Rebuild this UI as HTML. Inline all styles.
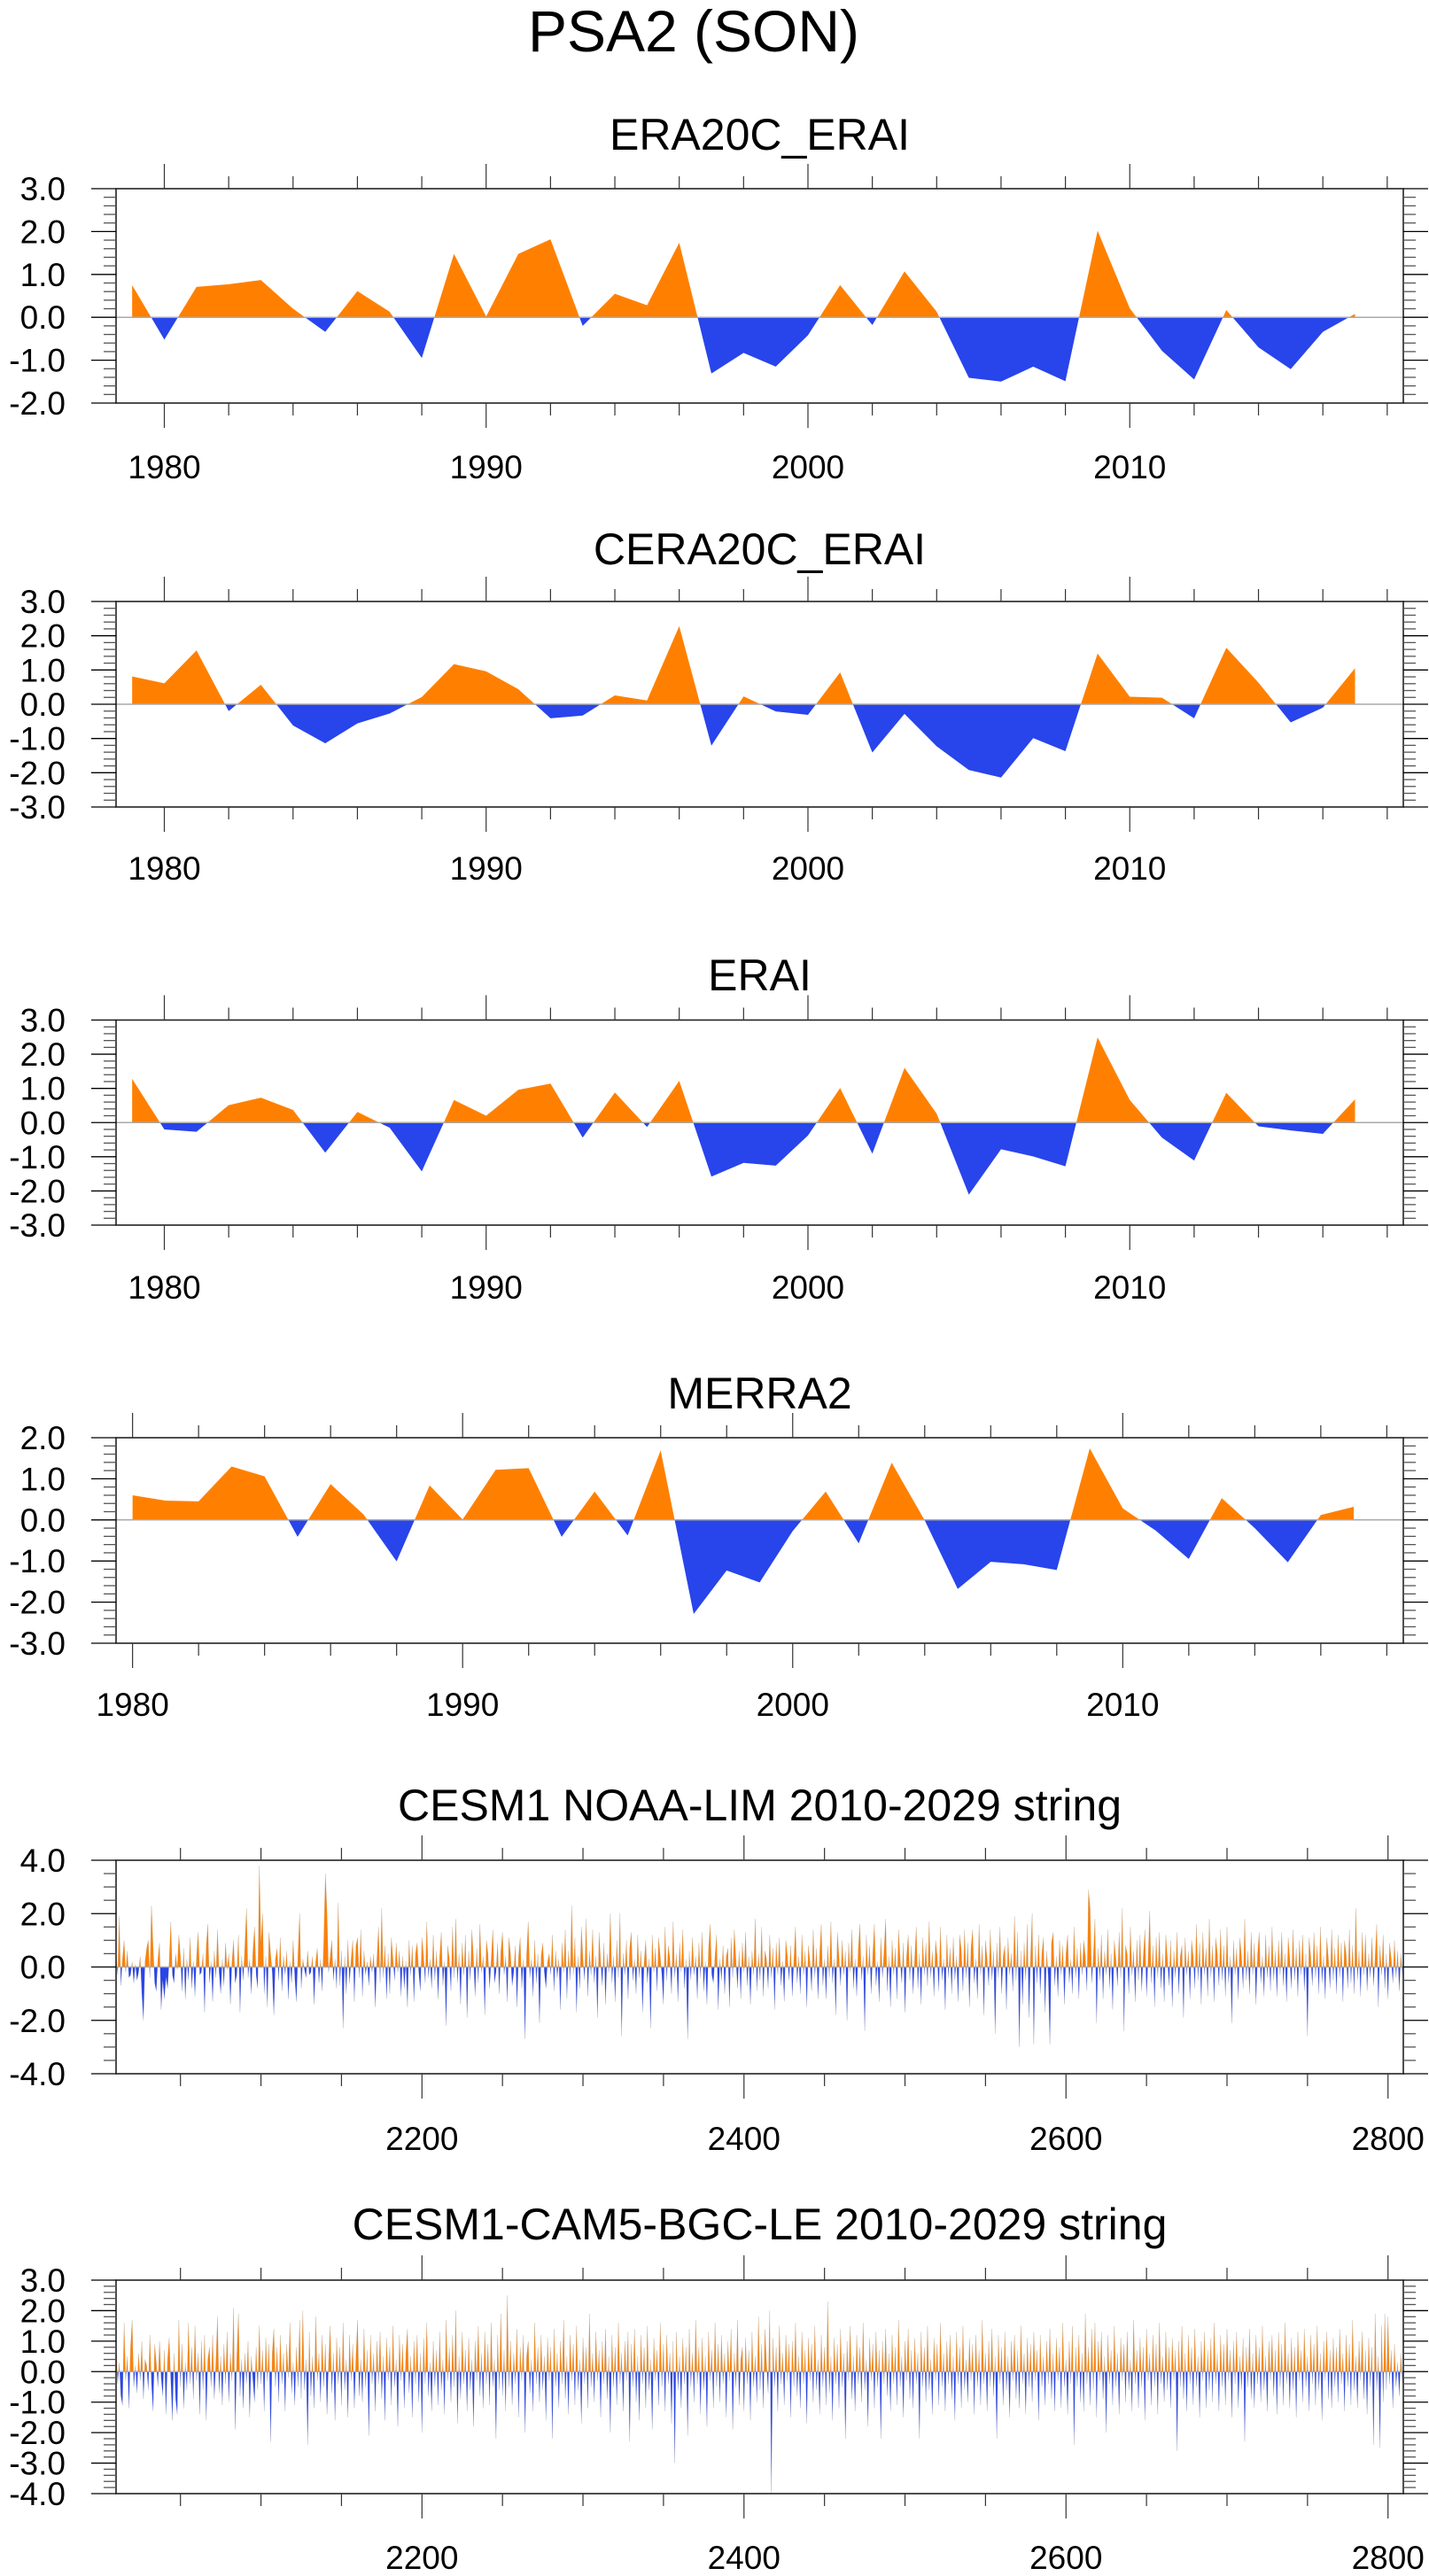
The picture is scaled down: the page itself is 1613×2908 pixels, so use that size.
<!DOCTYPE html>
<html><head><meta charset="utf-8"><style>
html,body{margin:0;padding:0;background:#fff;}
svg{display:block;}
text{font-family:"Liberation Sans",Arial,sans-serif;fill:#000;}
</style></head>
<body>
<svg id="fig" width="1613" height="2908" viewBox="0 0 1613 2908" xmlns="http://www.w3.org/2000/svg">
<text x="783" y="58" font-size="66" text-anchor="middle">PSA2 (SON)</text>
</svg>
<script>
// ---- data ----
const yearsA = [1979,1980,1981,1982,1983,1984,1985,1986,1987,1988,1989,1990,1991,1992,1993,1994,1995,1996,1997,1998,1999,2000,2001,2002,2003,2004,2005,2006,2007,2008,2009,2010,2011,2012,2013,2014,2015,2016,2017];
const era20cErai = [0.75,-0.52,0.71,0.77,0.87,0.2,-0.34,0.61,0.13,-0.95,1.48,0.02,1.48,1.82,-0.2,0.55,0.28,1.74,-1.31,-0.83,-1.15,-0.42,0.75,-0.18,1.07,0.13,-1.41,-1.5,-1.15,-1.49,2.02,0.21,-0.78,-1.45,0.17,-0.7,-1.21,-0.34,0.08];
const cera20cErai = [0.81,0.61,1.57,-0.2,0.57,-0.62,-1.14,-0.56,-0.27,0.21,1.17,0.96,0.44,-0.41,-0.33,0.26,0.11,2.28,-1.21,0.23,-0.21,-0.31,0.93,-1.41,-0.28,-1.23,-1.92,-2.14,-0.99,-1.37,1.48,0.22,0.19,-0.41,1.65,0.63,-0.53,-0.1,1.05];
const erai = [1.28,-0.2,-0.27,0.51,0.73,0.37,-0.88,0.31,-0.15,-1.43,0.66,0.2,0.96,1.14,-0.44,0.88,-0.13,1.22,-1.58,-1.18,-1.26,-0.38,1.01,-0.91,1.6,0.26,-2.11,-0.78,-0.99,-1.28,2.49,0.66,-0.44,-1.11,0.87,-0.11,-0.23,-0.33,0.68];
const yearsB = [1980,1981,1982,1983,1984,1985,1986,1987,1988,1989,1990,1991,1992,1993,1994,1995,1996,1997,1998,1999,2000,2001,2002,2003,2004,2005,2006,2007,2008,2009,2010,2011,2012,2013,2014,2015,2016,2017];
const merra2 = [0.6,0.47,0.45,1.3,1.06,-0.41,0.87,0.13,-1.01,0.84,0.01,1.22,1.26,-0.41,0.69,-0.38,1.69,-2.29,-1.23,-1.52,-0.27,0.69,-0.57,1.39,-0.01,-1.68,-1.02,-1.08,-1.22,1.74,0.28,-0.26,-0.95,0.53,-0.2,-1.03,0.12,0.32];
const limStart = 2010;
const cesmLim = [
0.5,-0.3,1.9,-0.7,0.3,1.0,-0.2,0.6,-0.4,-0.3,0.2,-0.6,0.1,-0.5,-0.2,0.4,-1.0,-2.0,0.2,0.7,1.0,-0.4,2.3,0.8,-0.6,-0.9,0.3,0.9,-1.6,-0.5,-1.2,-0.4,-0.8,0.2,1.7,-0.3,-0.6,0.5,-0.1,1.2,
0.4,-0.9,0.7,-1.2,0.3,-0.5,1.1,-0.8,0.2,-1.1,0.4,1.3,-0.3,-0.2,0.5,-1.7,0.8,1.6,-0.6,0.2,-1.3,0.6,-0.4,1.4,-0.2,-1.0,0.3,-0.7,0.9,-0.1,0.5,-1.4,0.2,1.0,-0.6,-0.3,1.2,-1.7,0.4,-0.5,
0.8,2.2,-0.4,0.3,-1.0,0.6,1.5,-0.3,-0.8,3.8,0.9,2.0,-1.0,0.4,-1.5,1.3,0.5,-0.2,-1.8,0.3,0.7,-0.5,1.1,-0.9,0.4,-0.3,0.6,-1.2,0.2,-0.6,1.0,-0.4,-1.3,0.5,2.0,-0.8,0.3,-0.1,-0.4,0.6,
-0.3,-0.2,0.4,-1.4,0.2,0.7,-0.6,0.3,-0.9,1.0,3.5,2.1,-0.2,0.4,1.0,-0.5,0.3,-0.8,2.4,-0.7,0.6,-2.3,0.4,-1.0,1.0,-0.6,0.3,1.0,-1.3,0.8,1.1,-0.4,1.4,-1.1,0.6,-0.3,0.2,-0.7,0.4,-0.2,
0.5,-1.5,0.3,1.5,-0.6,2.2,-0.4,0.8,-1.2,0.5,-1.0,1.1,0.3,-0.5,0.9,-0.2,0.6,-1.1,0.4,-0.8,0.2,-1.5,1.0,-0.3,0.8,-1.3,0.5,0.9,-0.2,-0.9,1.1,0.4,-0.6,1.7,-0.4,0.3,-0.8,1.2,-0.5,0.6,
-1.2,0.4,1.3,-0.7,0.2,-2.2,0.8,0.3,-0.9,1.5,-0.4,1.8,-0.6,0.5,-1.4,0.9,-0.3,1.2,-1.9,0.6,-0.5,1.4,0.3,-1.1,0.7,-0.6,1.6,-0.2,0.4,-1.8,1.0,0.5,-0.8,0.3,1.4,-0.6,-0.2,0.9,-1.0,0.6,
1.3,-0.3,0.4,-1.3,1.1,0.5,-0.7,-0.2,0.8,-1.5,0.4,1.1,-0.8,0.3,-2.7,0.5,1.7,-0.4,0.3,-1.1,1.0,-0.6,0.5,-2.1,0.4,0.9,-0.2,-0.8,0.2,0.5,-0.3,1.2,-0.9,0.6,-0.4,0.3,-1.6,0.9,-0.2,1.4,
-1.2,0.6,-0.5,2.3,-0.3,1.1,-1.7,0.4,-0.8,1.5,0.3,-0.5,1.8,-1.1,0.6,-0.3,1.4,-0.6,0.4,-1.9,1.3,0.2,-0.7,0.9,-1.4,0.5,-0.2,2.0,-0.6,0.4,-1.3,1.0,-0.4,2.0,-2.6,0.5,-0.3,1.0,-1.2,0.7,
1.3,-0.5,0.3,-1.0,1.2,-0.4,0.6,-1.7,0.2,1.0,-0.6,0.3,-2.3,1.2,-0.2,0.7,-0.9,1.1,0.4,-0.3,-1.4,1.5,-0.5,0.8,0.3,-1.0,1.7,-0.4,0.5,-1.3,0.9,-0.2,1.4,-0.8,0.3,-2.7,0.6,-0.5,1.1,-0.3,
0.4,-1.2,0.9,-0.4,1.3,-0.9,0.2,-1.4,0.7,1.6,-0.3,-0.6,0.4,1.2,-1.6,0.3,-0.5,0.8,-1.0,0.4,0.7,-1.5,1.1,-0.4,1.4,0.3,-0.8,0.6,-1.2,0.9,-0.2,1.3,-0.7,0.4,-1.4,0.6,-0.3,1.8,-0.9,0.5,
-0.5,1.5,-1.1,0.6,0.3,-0.8,1.2,-0.4,0.7,-1.6,0.9,-0.3,1.1,-0.7,0.2,-1.3,1.0,0.4,-0.5,0.8,-1.1,0.3,1.5,-0.6,0.4,-1.0,1.2,-0.3,0.6,-1.5,0.8,0.2,-0.9,1.4,-0.4,0.7,-1.2,0.5,1.6,-0.7,
0.3,-1.2,0.8,-0.4,1.7,-0.6,0.3,-1.8,1.3,0.4,-0.7,1.0,-0.3,0.6,-2.0,0.9,-0.2,1.4,-0.8,0.3,-1.1,0.7,1.6,-0.5,0.4,-2.4,1.2,-0.3,0.8,-1.0,0.5,1.6,-0.7,0.2,-1.3,1.1,-0.4,0.6,1.8,-0.9,
0.4,-1.5,1.0,-0.3,0.7,-1.2,1.4,0.3,-0.6,0.9,-1.7,0.4,1.2,-0.5,0.8,-1.0,0.3,1.5,-0.8,0.5,-1.4,1.1,-0.3,0.9,-0.7,1.7,-0.4,0.6,-1.1,1.0,0.4,-0.9,1.5,-0.5,0.3,-1.6,1.2,-0.4,0.7,-1.0,
1.1,-0.5,0.4,-1.3,1.2,0.6,-0.9,1.4,-0.4,0.9,-1.5,0.7,1.4,-0.6,0.3,-1.2,1.6,-0.3,0.8,-1.8,1.0,0.3,-0.7,1.4,-0.5,0.6,-2.5,0.9,-0.4,1.5,-1.0,0.4,0.8,-1.6,1.1,-0.3,0.5,-0.9,1.9,-0.5,
1.3,-3.0,0.6,-1.4,0.9,-0.5,1.6,-1.9,0.4,2.0,-2.9,0.8,-0.6,1.2,-1.0,0.5,1.1,-1.7,0.6,-0.4,-2.9,0.9,1.3,-0.7,0.4,-1.1,1.0,-0.3,0.8,-1.4,0.5,1.2,-0.6,0.3,-1.0,1.5,-0.4,0.7,-1.2,0.9,
-0.3,1.0,0.4,-0.9,2.9,2.2,-0.6,0.4,1.8,-2.1,0.7,-0.5,1.2,-1.2,0.6,-0.3,1.4,-0.8,0.5,-1.6,1.0,0.3,-0.7,1.3,-0.4,2.2,-2.4,0.8,0.5,-1.0,1.5,-0.3,0.6,-1.3,1.0,-0.5,1.2,-0.9,0.4,1.4,
-1.1,0.3,2.1,-0.6,0.8,-1.5,1.1,-0.4,1.3,-0.8,0.5,-1.3,1.2,0.3,-0.7,1.0,-1.5,0.6,-0.4,1.3,-1.0,0.4,0.8,-1.9,1.1,-0.3,0.6,-1.2,1.0,0.4,-0.8,1.6,-0.5,0.9,-1.4,1.3,-0.3,0.7,-1.1,1.8,
-0.4,0.8,-1.3,1.1,0.5,-0.7,1.4,-0.5,0.8,-1.1,1.5,-0.6,0.4,-2.1,1.0,-0.3,0.7,-1.2,1.1,0.4,-0.8,1.8,-0.5,0.6,-1.0,1.3,-0.3,0.9,-1.4,0.5,1.3,-0.6,0.4,-1.1,1.2,-0.4,0.8,-0.9,1.5,-0.5,
0.6,-1.1,1.0,-0.3,1.3,-0.7,0.5,-1.3,1.1,0.3,-0.8,1.4,-0.5,0.7,-1.1,1.0,-0.3,1.2,-0.9,0.5,-2.6,1.1,0.4,-0.7,1.3,-0.4,0.8,-1.0,1.5,-0.6,0.4,-1.2,1.1,0.3,-0.8,1.4,-0.5,0.7,-1.0,1.2,
-0.4,0.9,-1.3,1.0,0.5,-0.8,1.4,-0.6,0.8,-1.0,2.2,-0.5,0.6,-1.1,1.3,-0.3,1.2,-0.9,0.5,-0.4,1.1,-0.7,0.4,1.6,-1.5,0.8,-0.3,1.2,-0.8,0.5,-1.2,0.9,0.3,-0.6,1.0,-0.4,0.6,-0.9,0.5,-0.3];
const cesmLe = [
1.0,-0.4,0.3,-0.8,-1.1,1.6,-0.3,0.5,-1.2,0.8,1.7,-0.5,0.2,-0.7,0.6,-0.3,1.0,-0.9,0.4,0.2,-0.6,1.2,-0.4,-1.3,0.9,0.3,-0.5,1.0,-0.2,-0.8,0.7,-1.4,0.4,1.1,-0.3,-1.6,0.6,-0.9,-1.4,1.7,
-0.5,0.9,-1.2,0.3,-0.6,1.6,-0.4,0.8,-0.9,1.5,-0.3,0.6,-1.4,1.0,-0.6,1.2,-1.6,0.4,0.8,-0.5,1.2,-0.9,0.3,1.8,-0.7,0.5,-1.1,0.9,-0.4,1.3,-1.0,0.6,-0.3,2.1,-1.9,0.5,1.9,-0.8,0.4,-1.2,
0.6,-0.4,1.0,-1.5,0.5,-0.3,-1.0,0.8,-0.6,1.5,-0.4,0.7,-1.3,1.1,-0.3,0.9,-2.3,0.6,1.4,-0.5,0.8,-1.0,1.2,-0.4,0.6,-1.3,0.9,-0.2,1.6,-0.7,0.3,-1.1,0.8,-0.5,1.7,-0.9,2.0,-0.6,0.4,-2.4,
1.3,-0.8,0.5,-1.2,1.8,-0.3,0.6,-1.0,1.2,-0.5,0.9,-1.4,0.3,1.5,-0.7,0.6,-1.6,1.1,-0.4,0.8,-1.1,1.6,-0.6,0.4,-1.5,1.2,-0.3,0.9,-1.2,0.5,1.7,-0.8,0.4,-1.0,1.4,-0.5,0.7,-2.1,1.2,-0.4,
0.6,-1.3,1.0,-0.4,1.3,-0.9,0.5,-1.6,1.1,-0.3,0.8,-1.1,1.5,-0.5,0.4,-1.8,1.2,-0.3,0.9,-1.2,0.6,1.4,-0.7,0.5,-1.5,1.0,-0.4,1.2,-1.0,0.6,-2.0,1.1,-0.4,1.6,-0.8,0.3,-1.3,1.0,-0.5,0.7,
-1.1,1.3,-0.6,0.4,-1.4,1.7,-0.3,0.8,-1.0,1.2,-0.5,2.0,-1.7,0.5,-0.9,1.3,-0.4,0.7,-1.3,1.1,-0.6,0.4,-1.8,1.0,-0.3,1.5,-0.8,0.6,-1.2,1.3,-0.4,0.9,-1.1,1.6,-0.5,0.4,-2.2,1.2,-0.6,1.9,
-0.8,0.7,-1.3,2.5,-0.5,1.0,-1.1,0.6,-0.4,1.4,-1.5,0.8,-0.3,1.2,-2.0,0.5,1.0,-0.7,0.4,-1.3,1.6,-0.4,0.8,-1.0,1.2,-0.6,0.5,-1.6,1.1,-0.3,0.8,-2.2,1.4,-0.5,0.6,-1.2,1.0,-0.4,1.7,-0.9,
0.5,-1.4,1.2,-0.3,0.9,-1.1,1.5,-0.6,0.4,-1.7,1.1,-0.4,0.8,-1.2,1.9,-0.5,0.6,-1.0,1.3,-0.3,0.7,-1.5,1.0,-0.4,1.4,-0.9,0.5,-2.0,1.2,-0.5,0.8,-1.1,1.6,-0.4,0.6,-1.3,1.0,-0.3,1.3,-2.3,
0.9,-0.5,1.4,-1.0,0.5,-1.6,1.2,-0.4,0.8,-1.2,1.5,-0.6,0.4,-1.9,1.1,-0.3,0.7,-1.1,1.6,-0.5,0.9,-1.3,1.2,-0.4,0.6,-1.7,1.0,-3.0,1.3,-0.6,0.5,-1.2,1.1,-0.4,0.8,-2.1,1.4,-0.5,0.6,-1.0,
1.7,-0.4,0.8,-1.4,1.1,-0.6,0.5,-1.8,1.3,-0.3,0.7,-1.2,1.6,-0.5,0.9,-1.0,1.2,-0.4,0.6,-1.5,1.0,-0.3,1.4,-1.9,0.6,-0.5,1.7,-1.1,0.4,0.8,-1.3,1.1,-0.4,0.7,-1.6,1.3,-0.5,0.5,-1.0,1.8,
-0.6,0.9,-1.2,1.4,0.3,-0.7,2.0,-4.0,1.1,-0.5,0.8,-1.3,1.5,-0.4,0.6,-1.1,1.2,-0.3,0.9,-1.5,1.0,-0.5,1.6,-0.8,0.5,-1.2,1.3,-0.4,0.7,-1.7,1.1,-0.3,0.9,-1.0,1.5,-0.6,0.4,-1.4,1.2,-0.5,
0.8,-1.1,2.3,-0.7,0.5,-1.6,1.1,-0.4,0.9,-1.2,1.4,-0.5,0.6,-2.2,1.0,-0.3,1.5,-0.9,0.5,-1.3,1.2,-0.4,0.8,-1.0,1.6,-0.6,0.4,-1.8,1.1,-0.3,0.9,-1.2,1.3,-0.5,0.7,-2.2,1.0,-0.4,1.4,-0.8,
0.6,-1.3,1.2,-0.4,0.8,-1.1,1.7,-0.5,0.5,-1.5,1.0,-0.3,1.4,-0.9,0.7,-1.2,1.1,-0.4,0.6,-2.2,1.3,-0.5,0.8,-1.0,1.5,-0.6,0.4,-1.4,1.1,-0.3,0.9,-1.1,1.6,-0.5,0.6,-1.3,1.0,-0.4,1.2,-0.9,
0.5,-1.6,1.3,-0.4,0.8,-1.2,1.5,-0.6,0.4,-1.0,1.1,-0.3,0.9,-1.4,1.2,-0.5,0.7,-1.1,1.7,-0.4,0.6,-1.3,1.0,-0.5,1.4,-0.8,0.5,-2.2,1.2,-0.4,0.8,-1.1,1.3,-0.6,0.5,-1.5,1.0,-0.3,1.2,-0.9,
0.7,-1.2,1.5,-0.4,0.6,-1.4,1.1,-0.5,0.9,-1.0,1.3,-0.3,0.7,-1.6,1.2,-0.5,0.5,-1.1,1.0,-0.4,1.4,-0.9,0.6,-1.3,1.1,-0.3,0.8,-1.2,1.6,-0.5,0.4,-1.4,1.0,-0.4,1.5,-2.4,0.8,-0.5,1.2,-1.0,
0.6,-1.3,1.9,-0.4,0.8,-1.1,1.4,-0.6,1.6,-1.5,1.0,-0.3,1.3,-0.9,0.5,-2.0,1.2,-0.4,0.7,-1.1,1.5,-0.5,0.6,-1.4,1.1,-0.3,0.9,-1.0,1.3,-0.6,0.4,-1.3,1.7,-0.4,0.7,-1.2,1.1,-0.5,0.8,-1.6,
1.4,-0.3,0.6,-1.1,1.2,-0.5,0.9,-1.4,1.6,-0.4,0.5,-1.0,1.3,-0.6,0.8,-1.2,1.1,-0.3,0.7,-2.6,1.0,-0.5,1.5,-0.9,0.6,-1.3,1.2,-0.4,0.8,-1.1,1.4,-0.5,0.5,-1.5,1.0,-0.3,1.3,-1.2,0.7,-0.6,
1.1,-1.0,1.6,-0.4,0.6,-1.3,1.2,-0.5,0.9,-1.1,1.4,-0.3,0.7,-1.5,1.0,-0.4,1.3,-1.2,0.5,-0.6,1.1,-2.3,0.8,-0.5,1.4,-0.9,0.6,-1.2,1.2,-0.4,0.8,-1.0,1.5,-0.6,0.5,-1.3,1.0,-0.3,1.2,-0.8,
0.7,-1.4,1.3,-0.5,0.9,-1.1,1.6,-0.4,0.6,-1.2,1.1,-0.6,0.8,-1.5,1.3,-0.3,0.7,-1.0,1.4,-0.5,0.5,-1.3,1.2,-0.4,0.9,-1.1,1.5,-0.6,0.6,-1.6,1.0,-0.3,1.3,-0.9,0.7,-1.2,1.1,-0.5,0.8,-1.0,
1.4,-0.4,0.6,-1.3,1.2,-0.5,0.9,-1.1,1.7,-0.6,0.5,-1.2,1.0,-0.3,1.3,-0.9,0.7,-1.4,1.1,-0.5,0.8,-2.4,1.9,-0.6,0.5,-2.5,1.5,-1.0,1.9,-0.6,1.8,-0.4,0.7,-1.2,0.9,-0.5,0.3,-0.8,0.6,-0.4];
const titles = ["ERA20C_ERAI","CERA20C_ERAI","ERAI","MERRA2","CESM1 NOAA-LIM 2010-2029 string","CESM1-CAM5-BGC-LE 2010-2029 string"];
const yTickLabels1 = ["3.0","2.0","1.0","0.0","-1.0","-2.0"];
const yTickLabels2 = ["3.0","2.0","1.0","0.0","-1.0","-2.0","-3.0"];
const yTickLabels4 = ["2.0","1.0","0.0","-1.0","-2.0","-3.0"];
const yTickLabels5 = ["4.0","2.0","0.0","-2.0","-4.0"];
const yTickLabels6 = ["3.0","2.0","1.0","0.0","-1.0","-2.0","-3.0","-4.0"];
const xTickLabelsYears = ["1980","1990","2000","2010"];
const xTickLabelsIdx = ["2200","2400","2600","2800"];

// ---- layout ----
const NS = "http://www.w3.org/2000/svg";
const svg = document.getElementById('fig');
const L = 131, R = 1584;
function mk(tag, attrs, parent){const e=document.createElementNS(NS,tag);for(const k in attrs)e.setAttribute(k,attrs[k]);(parent||svg).appendChild(e);return e;}

function panel(o){
  const g = mk('g',{});
  
  
  const xs = v => L + (v - o.xmin)/(o.xmax - o.xmin)*(R-L);
  const ys = v => o.top + (o.ymax - v)/(o.ymax - o.ymin)*(o.bot - o.top);
  // title
  const t = mk('text',{x:(L+R)/2,y:o.titleY,'font-size':50,'text-anchor':'middle'},g);
  t.textContent = o.title;
  
  
  // data polygon
  const id = 'c'+o.name;
  const defs = mk('defs',{},g);
  const cpA = mk('clipPath',{id:id+'a'},defs); mk('rect',{x:L,y:o.top,width:R-L,height:ys(0)-o.top},cpA);
  const cpB = mk('clipPath',{id:id+'b'},defs); mk('rect',{x:L,y:ys(0),width:R-L,height:o.bot-ys(0)},cpB);
  let d = 'M'+xs(o.x[0]).toFixed(2)+','+ys(0).toFixed(2);
  for(let i=0;i<o.y.length;i++) d += 'L'+xs(o.x[i]).toFixed(2)+','+ys(o.y[i]).toFixed(2);
  d += 'L'+xs(o.x[o.y.length-1]).toFixed(2)+','+ys(0).toFixed(2)+'Z';
  const pa = mk('path',{d:d,fill:'#ff8000','clip-path':'url(#'+id+'a)'},g);
  
  
  const pb = mk('path',{d:d,fill:'#2844eb','clip-path':'url(#'+id+'b)'},g);
  
  
  if(o.thin){ mk('path',{d:d,fill:'none',stroke:'#999','stroke-width':0.4,'stroke-opacity':0.5},g); }
  // zero line
  const z = mk('line',{x1:L,x2:R,y1:ys(0),y2:ys(0),stroke:'#aaa','stroke-width':1.5},g);
  
  
  // frame
  const f = mk('rect',{x:L,y:o.top,width:R-L,height:o.bot-o.top,fill:'none',stroke:'#222','stroke-width':1.6},g);
  
  
  // y ticks
  for(let v=o.ymin; v<=o.ymax+1e-9; v+=o.yminor){
    const vv = Math.round(v*1000)/1000;
    const major = Math.abs(vv/o.ymajor - Math.round(vv/o.ymajor))<1e-6;
    const len = major?28:14, y=ys(vv);
    mk('line',{x1:L-len,x2:L,y1:y,y2:y,stroke:major?'#000':'#555','stroke-width':1.3},g);
    mk('line',{x1:R,x2:R+len,y1:y,y2:y,stroke:major?'#000':'#555','stroke-width':1.3},g);
  }
  o.ylabels.forEach((s)=>{
    const y = ys(parseFloat(s));
    const tl = mk('text',{x:74,y:y+13,'font-size':37,'text-anchor':'end'},g);
    tl.textContent = s;
    
    
  });
  // x ticks
  for(let v=o.xminorStart; v<=o.xmax; v+=o.xminor){
    const major = (v - o.xmajorStart) % o.xmajor === 0 && v>=o.xmajorStart;
    const len = major?28:14, x=xs(v);
    mk('line',{x1:x,x2:x,y1:o.top-len,y2:o.top,stroke:'#333','stroke-width':1.2},g);
    mk('line',{x1:x,x2:x,y1:o.bot,y2:o.bot+len,stroke:'#333','stroke-width':1.2},g);
  }
  o.xlabels.forEach((s)=>{
    const xl = mk('text',{x:xs(parseFloat(s)),y:o.labelY,'font-size':37,'text-anchor':'middle'},g);
    xl.textContent = s;
    
    
  });
}
const idxX = a => a.map((_,i)=>limStart+i);

panel({name:'panel-era20c-erai',title:titles[0],top:213,bot:455,ymin:-2,ymax:3,ymajor:1,yminor:0.2,ylabels:yTickLabels1,
  xmin:1978.5,xmax:2018.5,xmajor:10,xmajorStart:1980,xminor:2,xminorStart:1980,xlabels:xTickLabelsYears,titleY:169,labelY:540,x:yearsA,y:era20cErai});
panel({name:'panel-cera20c-erai',title:titles[1],top:679,bot:911,ymin:-3,ymax:3,ymajor:1,yminor:0.2,ylabels:yTickLabels2,
  xmin:1978.5,xmax:2018.5,xmajor:10,xmajorStart:1980,xminor:2,xminorStart:1980,xlabels:xTickLabelsYears,titleY:637,labelY:993,x:yearsA,y:cera20cErai});
panel({name:'panel-erai',title:titles[2],top:1151.5,bot:1383,ymin:-3,ymax:3,ymajor:1,yminor:0.2,ylabels:yTickLabels2,
  xmin:1978.5,xmax:2018.5,xmajor:10,xmajorStart:1980,xminor:2,xminorStart:1980,xlabels:xTickLabelsYears,titleY:1118,labelY:1466,x:yearsA,y:erai});
panel({name:'panel-merra2',title:titles[3],top:1623,bot:1855,ymin:-3,ymax:2,ymajor:1,yminor:0.2,ylabels:yTickLabels4,
  xmin:1979.5,xmax:2018.5,xmajor:10,xmajorStart:1980,xminor:2,xminorStart:1980,xlabels:xTickLabelsYears,titleY:1590,labelY:1937,x:yearsB,y:merra2});
panel({name:'panel-cesm1-noaa-lim',title:titles[4],top:2100,bot:2341,ymin:-4,ymax:4,ymajor:2,yminor:0.5,ylabels:yTickLabels5,
  xmin:2010,xmax:2809.5,xmajor:200,xmajorStart:2200,xminor:50,xminorStart:2050,xlabels:xTickLabelsIdx,titleY:2055,labelY:2427,x:idxX(cesmLim),y:cesmLim,thin:true});
panel({name:'panel-cesm1-cam5-bgc-le',title:titles[5],top:2574,bot:2815,ymin:-4,ymax:3,ymajor:1,yminor:0.2,ylabels:yTickLabels6,
  xmin:2010,xmax:2809.5,xmajor:200,xmajorStart:2200,xminor:50,xminorStart:2050,xlabels:xTickLabelsIdx,titleY:2528,labelY:2900,x:idxX(cesmLe),y:cesmLe,thin:true});
</script>
</body></html>
